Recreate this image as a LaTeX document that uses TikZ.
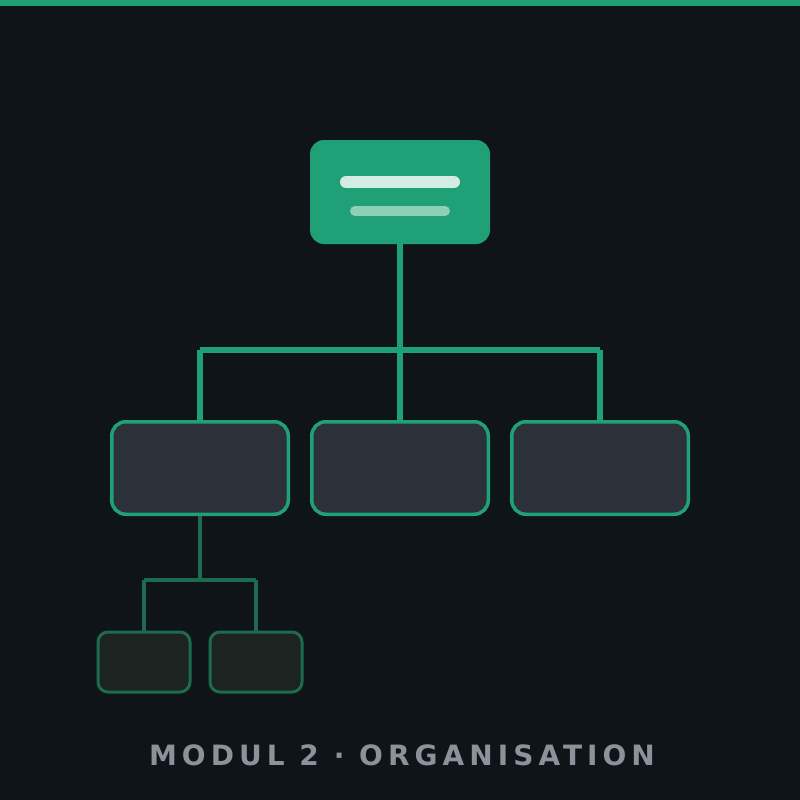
\documentclass[tikz,border=0pt]{standalone}
\usepackage{fontspec}
\newfontfamily\capfont[LetterSpace=18]{DejaVu Sans Bold}
\definecolor{bg}{HTML}{0F1418}
\definecolor{grn}{HTML}{1FA077}
\definecolor{midfill}{HTML}{2B3039}
\definecolor{dkgrn}{HTML}{1D6A50}
\definecolor{smfill}{HTML}{1C2421}
\definecolor{bar1}{HTML}{D4EDE4}
\definecolor{bar2}{HTML}{8ECFB8}
\definecolor{txt}{HTML}{8B929B}
\tikzset{
  topbox/.style={fill=grn, rounded corners=14pt, minimum width=180pt, minimum height=104pt, inner sep=0pt},
  midbox/.style={fill=midfill, draw=grn, line width=3.5pt, rounded corners=14pt, minimum width=176.5pt, minimum height=92.5pt, inner sep=0pt},
  smbox/.style={fill=smfill, draw=dkgrn, line width=3pt, rounded corners=10pt, minimum width=92pt, minimum height=60pt, inner sep=0pt},
  conn/.style={draw=grn, line width=5.5pt},
  subconn/.style={draw=dkgrn, line width=3.5pt},
}
\begin{document}
\begin{tikzpicture}[x=1pt,y=-1pt]
\useasboundingbox (0,0) rectangle (800,800);
\fill[bg] (0,0) rectangle (800,800);
\fill[grn] (0,0) rectangle (800,6);
% top node
\node[topbox] (top) at (400,192) {};
\draw[bar1, line width=12pt, line cap=round] (346,182) -- (454,182);
\draw[bar2, line width=10pt, line cap=round] (355,211) -- (445,211);
% middle nodes
\node[midbox] (m1) at (200,468) {};
\node[midbox] (m2) at (400,468) {};
\node[midbox] (m3) at (600,468) {};
% small nodes
\node[smbox] (s1) at (144,662) {};
\node[smbox] (s2) at (256,662) {};
% junctions
\coordinate (jc) at (400,350);
\coordinate (jl) at (200,350);
\coordinate (jr) at (600,350);
\coordinate (kc) at (200,580);
\coordinate (kl) at (144,580);
\coordinate (kr) at (256,580);
\draw[conn] (top.south) -- (jc);
\draw[conn] (jl) -- (jr);
\draw[conn] (jl) -- (m1.north);
\draw[conn] (jc) -- (m2.north);
\draw[conn] (jr) -- (m3.north);
\draw[subconn] (m1.south) -- (kc);
\draw[subconn] (kl) -- (kr);
\draw[subconn] (kl) -- (s1.north);
\draw[subconn] (kr) -- (s2.north);
% caption
\node[text=txt, font=\capfont\fontsize{28pt}{33pt}\selectfont, inner sep=0pt] (cap) at (402,755) {MODUL 2 · ORGANISATION};
\end{tikzpicture}
\end{document}
